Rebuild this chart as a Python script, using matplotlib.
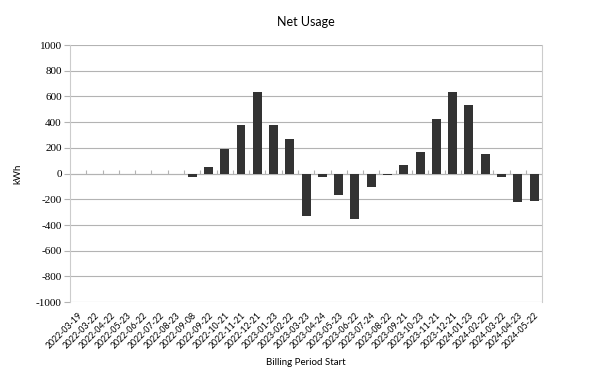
import matplotlib
matplotlib.use("Agg")
import matplotlib.pyplot as plt
import numpy as np

# Billing periods and net usage (kWh)
periods = [
    "2022-03-19", "2022-03-22", "2022-04-22", "2022-05-23", "2022-06-22",
    "2022-07-22", "2022-08-23", "2022-09-08", "2022-09-22", "2022-10-21",
    "2022-11-21", "2022-12-21", "2023-01-23", "2023-02-22", "2023-03-23",
    "2023-04-24", "2023-05-23", "2023-06-22", "2023-07-24", "2023-08-22",
    "2023-09-21", "2023-10-23", "2023-11-21", "2023-12-21", "2024-01-23",
    "2024-02-22", "2024-03-22", "2024-04-23", "2024-05-22",
]
net_usage = [
    0, 0, 0, 0, 0, 0, 0, -30, 50, 190,
    380, 635, 380, 270, -330, -25, -170, -350, -105, -10,
    70, 170, 425, 635, 530, 155, -25, -220, -210,
]
y_ticks = list(range(-1000, 1001, 200))

plt.rcParams["font.family"] = ["Lato", "DejaVu Sans"]

fig = plt.figure(figsize=(6, 3.82), dpi=100)
ax = fig.add_axes([0.1167, 0.209, 0.787, 0.673])

x = np.arange(len(periods))
ax.bar(x, net_usage, width=0.55, color="#333333", zorder=3)

ax.set_xlim(-0.5, len(periods) - 0.5)
ax.set_ylim(-1000, 1000)
ax.set_yticks(y_ticks)
ax.set_yticklabels([str(v) for v in y_ticks], family="Liberation Serif", fontsize=8)
ax.yaxis.grid(True, color="#b3b3b3", linewidth=0.8, zorder=0)
ax.tick_params(axis="y", length=4, color="#b3b3b3", pad=2)

# small category ticks on the zero line
bounds = np.arange(len(periods) + 1) - 0.5
ax.vlines(bounds[1:-1], 0, 25, color="#b3b3b3", linewidth=0.8, zorder=2)
ax.axhline(0, color="#b3b3b3", linewidth=0.8, zorder=2)

ax.set_xticks(x)
ax.set_xticklabels(periods, rotation=45, ha="right", rotation_mode="anchor", fontsize=6.3)
ax.tick_params(axis="x", length=0, pad=6)

for side in ["top", "bottom"]:
    ax.spines[side].set_visible(False)
for side in ["left", "right"]:
    ax.spines[side].set_color("#cccccc")
    ax.spines[side].set_linewidth(0.8)

ax.set_title("Net Usage", fontsize=9, pad=14)
ax.set_xlabel("Billing Period Start", fontsize=7, labelpad=6)
ax.set_ylabel("kWh", fontsize=7, labelpad=10)

fig.savefig("out.png", dpi=100)
